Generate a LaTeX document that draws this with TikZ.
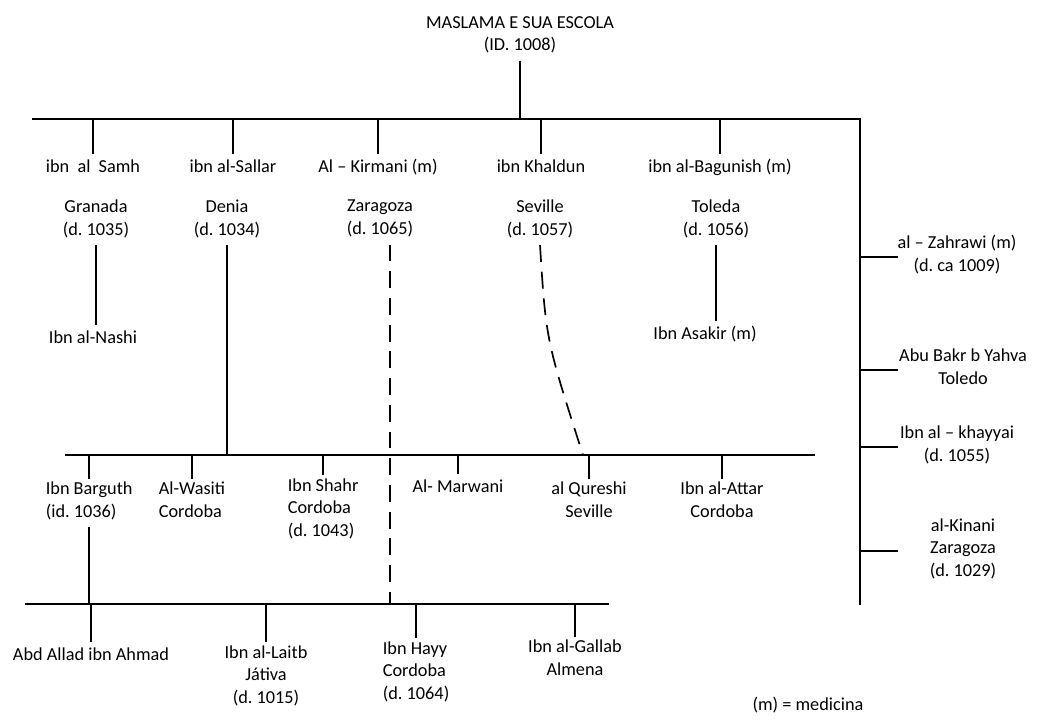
\documentclass[tikz,border=0pt]{standalone}
\usepackage{fontspec}
\setmainfont{Carlito}
\usepackage{tikz}
\frenchspacing

\begin{document}
\begin{tikzpicture}[x=0.025cm, y=-0.025cm, line width=1.2pt,
  every node/.style={font=\fontsize{13}{16.3}\selectfont, align=center, inner sep=1pt, outer sep=1pt,
    execute at begin node=\strut, execute at end node=\strut},
  lft/.style={anchor=west, align=left},
  dashline/.style={dash pattern=on 12pt off 7pt}]
\useasboundingbox (0,0) rectangle (1045,719);
\coordinate (tl) at (32,119);
\coordinate (tr) at (860,119);
\coordinate (rb) at (860,605);
\coordinate (ml) at (65,455);
\coordinate (mr) at (815,455);
\coordinate (bl) at (25,604);
\coordinate (br) at (609,604);
\coordinate (kjoin) at (390,604);
\coordinate (qjoin) at (583,455);
\coordinate (rtick) at (898,0);

\node (title) at (520,37) {MASLAMA E SUA ESCOLA\\(ID. 1008)};

\node (samh) at (93,168) {ibn\ \ al\ \ Samh};
\node (samhcity) at (96,221) {Granada\\(d. 1035)};
\node (sallar) at (233,168) {ibn al-Sallar};
\node (sallarcity) at (227,221) {Denia\\(d. 1034)};
\node (kirmani) at (378,168) {Al -- Kirmani (m)};
\node (kirmanicity) at (380,221) {Zaragoza\\(d. 1065)};
\node (khaldun) at (541,168) {ibn Khaldun};
\node (khalduncity) at (540,221) {Seville\\(d. 1057)};
\node (bagunish) at (720,168) {ibn al-Bagunish (m)};
\node (bagunishcity) at (716,221) {Toleda\\(d. 1056)};
\node (nashi) at (93,339) {Ibn al-Nashi};
\node (asakir) at (705,335) {Ibn Asakir (m)};

\node (zahrawi) at (957,257) {al -- Zahrawi (m)\\(d. ca 1009)};
\node (abubakr) at (963,370) {Abu Bakr b Yahva\\Toledo};
\node (khayyai) at (957,447) {Ibn al -- khayyai\\(d. 1055)};
\node (kinani) at (963,551) {al-Kinani\\Zaragoza\\(d. 1029)};

\node[lft] (barguth) at (43,503) {Ibn Barguth\\(id. 1036)};
\node[lft] (wasiti) at (156,503) {Al-Wasiti\\Cordoba};
\node[lft] (shahr) at (285,511) {Ibn Shahr\\Cordoba\\(d. 1043)};
\node (marwani) at (458,488) {Al- Marwani};
\node (qureshi) at (589,503) {al Qureshi\\Seville};
\node (attar) at (722,503) {Ibn al-Attar\\Cordoba};

\node (abdallad) at (91,656) {Abd Allad ibn Ahmad};
\node (laitb) at (266,678) {Ibn al-Laitb\\Játiva\\(d. 1015)};
\node[lft] (hayy) at (380,674) {Ibn Hayy\\Cordoba\\(d. 1064)};
\node (gallab) at (575,661) {Ibn al-Gallab\\Almena};

\node (medicina) at (808,706) {(m) = medicina};

\draw (title.south) -- (title.south |- tl);
\draw (tl) -- (tr) -- (rb);
\draw (ml) -- (mr);
\draw (bl) -- (br);

\foreach \n in {samh, sallar, kirmani, khaldun, bagunish}
  \draw (\n.north |- tl) -- (\n.north);
\foreach \n in {zahrawi, abubakr, khayyai, kinani}
  \draw (tr |- \n) -- (rtick |- \n);
\foreach \n in {barguth, wasiti, shahr, marwani, qureshi, attar}
  \draw (\n.north |- ml) -- (\n.north);
\foreach \n in {abdallad, laitb, hayy, gallab}
  \draw (\n.north |- bl) -- (\n.north);

\draw (samhcity.south) -- (samhcity.south |- nashi.north);
\draw (bagunishcity.south) -- (bagunishcity.south |- asakir.north);
\draw (sallarcity.south) -- (sallarcity.south |- ml);
\draw (barguth.south) -- (barguth.south |- bl);
\draw[dashline] (kirmanicity.south -| kjoin) -- (kjoin);
\draw[dashline] (khalduncity.south) .. controls (546,340) .. (qjoin);
\end{tikzpicture}
\end{document}
